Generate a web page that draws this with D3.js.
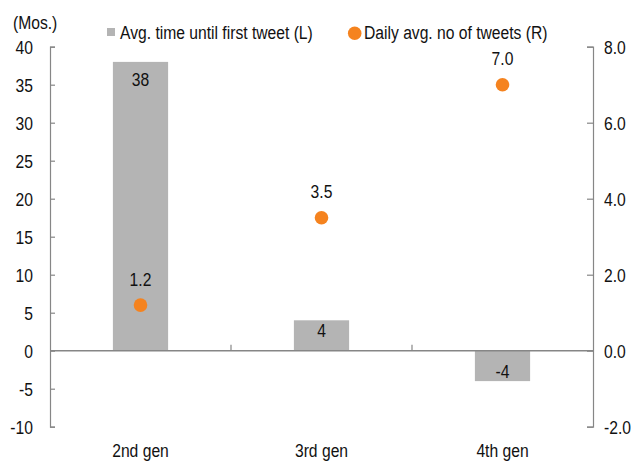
<!DOCTYPE html>
<html>
<head>
<meta charset="utf-8">
<script src="https://cdn.jsdelivr.net/npm/d3@7"></script>
<style>
  html, body { margin: 0; padding: 0; background: #fff; }
  svg { display: block; font-family: "Liberation Sans", Arial, sans-serif; }
</style>
</head>
<body>
<svg id="chart" width="638" height="464"></svg>
<script>
// Chart data
const categories = ["2nd gen", "3rd gen", "4th gen"];
const monthsToFirstTweet = [38, 4, -4];   // left axis (months)
const dailyTweets = [1.2, 3.5, 7.0];      // right axis
const leftTicks = [-10, -5, 0, 5, 10, 15, 20, 25, 30, 35, 40];
const rightTicks = [-2, 0, 2, 4, 6, 8];
const seriesNames = ["Avg. time until first tweet (L)", "Daily avg. no of tweets (R)"];
const unitLabel = "(Mos.)";

// Styling
const FONT = 18, SX = 0.87;
const AXIS = "#868686", BAR = "#b4b4b4", DOT = "#f5831f", TEXT = "#111";

// Number formats with a plain hyphen for negatives
const locale = d3.formatLocale({ decimal: ".", thousands: ",", grouping: [3], currency: ["", ""], minus: "-" });
const fmtInt = locale.format("d");
const fmtOne = locale.format(".1f");

const svg = d3.select("#chart");
const plotLeft = 50, plotRight = 593, plotTop = 46.7, plotBottom = 426.7;

const x = d3.scaleBand().domain(categories).range([plotLeft, plotRight]).paddingInner(0).paddingOuter(0);
const yL = d3.scaleLinear().domain([-10, 40]).range([plotBottom, plotTop]);
const yR = d3.scaleLinear().domain([-2, 8]).range([plotBottom, plotTop]);
const barW = x.bandwidth() * 0.305;
const cxOf = i => x(categories[i]) + x.bandwidth() / 2;

// Text helper: narrow the glyphs horizontally around the anchor point
function label(g, tx, ty, str, anchor) {
  return g.append("text")
    .attr("transform", `translate(${tx},${ty}) scale(${SX},1)`)
    .attr("text-anchor", anchor || "middle")
    .attr("font-size", FONT)
    .attr("fill", TEXT)
    .text(str);
}
function squeezeTicks(axisG, dx, anchor) {
  axisG.selectAll(".tick text").each(function () {
    d3.select(this)
      .attr("x", null).attr("dy", null)
      .attr("transform", `translate(${dx},6.3) scale(${SX},1)`)
      .attr("text-anchor", anchor)
      .attr("font-size", FONT)
      .attr("fill", TEXT);
  });
}

// Bars
svg.append("g").selectAll("rect")
  .data(monthsToFirstTweet)
  .join("rect")
  .attr("x", (d, i) => cxOf(i) - barW / 2)
  .attr("width", barW)
  .attr("y", d => Math.min(yL(d), yL(0)))
  .attr("height", d => Math.abs(yL(d) - yL(0)))
  .attr("fill", BAR);

// Left axis
const gL = svg.append("g").attr("transform", `translate(${plotLeft},0)`)
  .call(d3.axisLeft(yL).tickValues(leftTicks).tickSizeInner(-5).tickSizeOuter(-5).tickFormat(fmtInt));
gL.attr("font-family", null).attr("font-size", null);
gL.select(".domain").attr("stroke", AXIS).attr("stroke-width", 1.2);
gL.selectAll(".tick line").attr("stroke", AXIS).attr("stroke-width", 1.2);
squeezeTicks(gL, -17, "end");

// Right axis
const gR = svg.append("g").attr("transform", `translate(${plotRight},0)`)
  .call(d3.axisRight(yR).tickValues(rightTicks).tickSizeInner(-6).tickSizeOuter(-6).tickFormat(fmtOne));
gR.attr("font-family", null).attr("font-size", null);
gR.select(".domain").attr("stroke", AXIS).attr("stroke-width", 1.2);
gR.selectAll(".tick line").attr("stroke", AXIS).attr("stroke-width", 1.2);
squeezeTicks(gR, 11, "start");

// Category axis along zero
const gX = svg.append("g");
gX.append("line")
  .attr("x1", plotLeft).attr("x2", plotRight)
  .attr("y1", yL(0)).attr("y2", yL(0))
  .attr("stroke", AXIS).attr("stroke-width", 1.5);
gX.selectAll("line.div")
  .data(categories.slice(1))
  .join("line").attr("class", "div")
  .attr("x1", d => x(d)).attr("x2", d => x(d))
  .attr("y1", yL(0)).attr("y2", yL(0) - 6)
  .attr("stroke", AXIS).attr("stroke-width", 1.2);
categories.forEach((c, i) => label(gX, cxOf(i), 457, c));

// Bar value labels
const gBL = svg.append("g");
monthsToFirstTweet.forEach((v, i) => {
  const y = v >= 0 ? Math.min(yL(v) + 24, yL(0) - 13.7) : yL(v) - 3;
  label(gBL, cxOf(i), y, fmtInt(v));
});

// Dots
svg.append("g").selectAll("circle")
  .data(dailyTweets)
  .join("circle")
  .attr("cx", (d, i) => cxOf(i))
  .attr("cy", d => yR(d))
  .attr("r", 6.8)
  .attr("fill", DOT);
const gDL = svg.append("g");
dailyTweets.forEach((v, i) => {
  label(gDL, cxOf(i), yR(v) - 19.5, fmtOne(v));
});

// Unit label and legend
label(svg, 13, 29, unitLabel, "start");
const lg = svg.append("g");
lg.append("rect").attr("x", 107).attr("y", 28).attr("width", 8).attr("height", 8).attr("fill", BAR);
label(lg, 120, 39, seriesNames[0], "start");
lg.append("circle").attr("cx", 354.7).attr("cy", 33.3).attr("r", 6.8).attr("fill", DOT);
label(lg, 364, 39, seriesNames[1], "start");
</script>
</body>
</html>
